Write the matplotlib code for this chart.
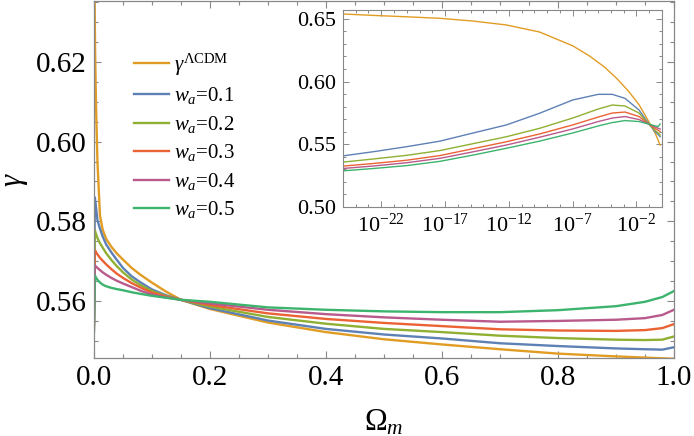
import numpy as np
import matplotlib
matplotlib.use('Agg')
import matplotlib.pyplot as plt
from matplotlib.ticker import FixedLocator, MultipleLocator, FuncFormatter, NullFormatter

matplotlib.rcParams['font.family'] = 'Liberation Serif'
matplotlib.rcParams['mathtext.fontset'] = 'custom'
matplotlib.rcParams['mathtext.rm'] = 'Liberation Serif'
matplotlib.rcParams['mathtext.it'] = 'Liberation Serif:italic'

# --- main panel: gamma vs Omega_m ---
om_lcdm = [0.0, 0.001, 0.002, 0.0034, 0.006, 0.0103, 0.015, 0.021, 0.03, 0.039, 0.05,
           0.065, 0.08, 0.1, 0.125, 0.15, 0.2, 0.3, 0.4, 0.5, 0.6, 0.7, 0.8, 0.9, 1.0]
g_lcdm = [0.670, 0.637, 0.622, 0.610, 0.595, 0.5815, 0.5779, 0.5756, 0.5736, 0.5720, 0.5704,
          0.5683, 0.5666, 0.5646, 0.5623, 0.5603, 0.5580, 0.5546, 0.5522, 0.5504, 0.5491,
          0.5479, 0.5468, 0.5461, 0.5455]

om_wa = [0.0, 0.0015, 0.003, 0.006, 0.01, 0.015, 0.021, 0.03, 0.039, 0.05, 0.065, 0.08,
         0.1, 0.125, 0.15, 0.2, 0.3, 0.4, 0.5, 0.6, 0.7, 0.8, 0.9, 0.95, 0.98, 1.0]
g_wa01 = [0.556, 0.5860, 0.5842, 0.5803, 0.5783, 0.5762, 0.5742, 0.5722, 0.5704, 0.5683,
          0.5662, 0.5647, 0.5629, 0.5614, 0.5603, 0.5582, 0.5551, 0.5530, 0.5516, 0.5506,
          0.5494, 0.5487, 0.5481, 0.5479, 0.5478, 0.5484]
g_wa02 = [0.555, 0.5778, 0.5770, 0.5758, 0.5746, 0.5734, 0.5720, 0.5703, 0.5688, 0.5672,
          0.5654, 0.5640, 0.5625, 0.5612, 0.5603, 0.5586, 0.5560, 0.5543, 0.5530, 0.5522,
          0.5513, 0.5507, 0.5503, 0.5502, 0.5503, 0.5511]
g_wa03 = [0.554, 0.5728, 0.5724, 0.5717, 0.5709, 0.5701, 0.5692, 0.5680, 0.5669, 0.5658,
          0.5645, 0.5634, 0.5621, 0.5611, 0.5603, 0.5590, 0.5569, 0.5555, 0.5545, 0.5537,
          0.5529, 0.5526, 0.5525, 0.5527, 0.5532, 0.5542]
g_wa04 = [0.553, 0.5690, 0.5687, 0.5683, 0.5678, 0.5672, 0.5666, 0.5658, 0.5651, 0.5644,
          0.5635, 0.5626, 0.5616, 0.5609, 0.5603, 0.5594, 0.5578, 0.5567, 0.5559, 0.5553,
          0.5548, 0.5550, 0.5553, 0.5557, 0.5565, 0.5578]
g_wa05 = [0.5523, 0.5665, 0.5660, 0.5653, 0.5647, 0.5641, 0.5637, 0.5633, 0.5630, 0.5627,
          0.5622, 0.5618, 0.5613, 0.5608, 0.5603, 0.5598, 0.5584, 0.5578, 0.5574, 0.5572,
          0.5572, 0.5577, 0.5587, 0.5598, 0.5610, 0.5625]

# --- inset: same curves against log10(Omega_m) ---
lx_lcdm = [-24.9, -22.6, -20.0, -17.4, -14.8, -12.2, -9.6, -7.0, -5.7, -4.5, -3.5,
           -2.6, -1.8, -1.06, -0.54, -0.15]
lg_lcdm = [0.6538, 0.6527, 0.6516, 0.6504, 0.6482, 0.6451, 0.6395, 0.6285, 0.6205, 0.6115,
           0.6020, 0.5920, 0.5815, 0.5685, 0.5590, 0.5494]

lx_wa = [-24.9, -22.6, -20.0, -17.4, -14.8, -12.2, -9.6, -7.0, -5.0, -3.9, -2.9, -1.8,
         -1.06, -0.54, -0.3, -0.15]
lg_wa01 = [0.5409, 0.5441, 0.5481, 0.5525, 0.5590, 0.5654, 0.5747, 0.5853, 0.5898, 0.5898,
           0.5866, 0.5773, 0.5667, 0.5600, 0.5578, 0.5560]
lg_wa02 = [0.5359, 0.5383, 0.5412, 0.5450, 0.5505, 0.5560, 0.5627, 0.5709, 0.5781, 0.5813,
           0.5805, 0.5749, 0.5662, 0.5610, 0.5590, 0.5574]
lg_wa03 = [0.5327, 0.5347, 0.5373, 0.5410, 0.5465, 0.5520, 0.5582, 0.5654, 0.5717, 0.5749,
           0.5757, 0.5721, 0.5662, 0.5626, 0.5612, 0.5602]
lg_wa04 = [0.5308, 0.5327, 0.5353, 0.5388, 0.5440, 0.5494, 0.5556, 0.5622, 0.5681, 0.5709,
           0.5721, 0.5697, 0.5662, 0.5638, 0.5628, 0.5622]
lg_wa05 = [0.5289, 0.5307, 0.5330, 0.5364, 0.5414, 0.5468, 0.5525, 0.5590, 0.5646, 0.5673,
           0.5689, 0.5681, 0.5662, 0.5646, 0.5642, 0.5662]

labels = [r'$\gamma^{\Lambda\mathrm{CDM}}$', r'$w_a$=0.1', r'$w_a$=0.2',
          r'$w_a$=0.3', r'$w_a$=0.4', r'$w_a$=0.5']
colors = ['#E19C24', '#5E81B5', '#8FB032', '#EB6235', '#B85A8C', '#3DB46D']

main_x = [om_lcdm, om_wa, om_wa, om_wa, om_wa, om_wa]
main_y = [g_lcdm, g_wa01, g_wa02, g_wa03, g_wa04, g_wa05]
ins_x = [lx_lcdm, lx_wa, lx_wa, lx_wa, lx_wa, lx_wa]
ins_y = [lg_lcdm, lg_wa01, lg_wa02, lg_wa03, lg_wa04, lg_wa05]

frame = '#888888'

fig = plt.figure(figsize=(6.94, 4.36), dpi=100)
ax = fig.add_axes([0.1354, 0.1789, 0.8357, 0.8190])

for xs, ys, c, lab in zip(main_x, main_y, colors, labels):
    ax.plot(xs, ys, color=c, lw=1.7, label=lab, solid_joinstyle='round')

ax.set_xlim(0, 1)
ax.set_ylim(0.5457, 0.6353)
ax.xaxis.set_major_locator(MultipleLocator(0.2))
ax.xaxis.set_minor_locator(MultipleLocator(0.05))
ax.yaxis.set_major_locator(MultipleLocator(0.02))
ax.yaxis.set_minor_locator(MultipleLocator(0.005))
ax.xaxis.set_major_formatter(FuncFormatter(lambda v, p: f'{v:.1f}'))
ax.yaxis.set_major_formatter(FuncFormatter(lambda v, p: f'{v:.2f}'))
ax.tick_params(which='both', direction='in', top=True, right=True, color=frame, width=0.8)
ax.tick_params(which='major', length=5, labelsize=21, pad=5)
ax.tick_params(which='minor', length=2.8)
for s in ax.spines.values():
    s.set_color(frame)
    s.set_linewidth(0.9)
ax.set_xlabel(r'$\Omega_m$', fontsize=22, labelpad=12)
ax.set_ylabel(r'$\gamma$', fontsize=22, labelpad=4)

leg = ax.legend(loc='upper left', bbox_to_anchor=(0.069, 0.858), frameon=False,
                fontsize=15, handlelength=1.7, handletextpad=0.2, labelspacing=0.36,
                borderaxespad=0, borderpad=0)

# inset
axi = fig.add_axes([0.4942, 0.5252, 0.4597, 0.4518])
for xs, ys, c in zip(ins_x, ins_y, colors):
    axi.plot(10.0 ** np.array(xs), ys, color=c, lw=1.0, solid_joinstyle='round')
axi.set_xscale('log')
axi.set_xlim(1e-25, 1)
axi.set_ylim(0.50, 0.657)
axi.xaxis.set_major_locator(FixedLocator([1e-22, 1e-17, 1e-12, 1e-7, 1e-2]))
axi.xaxis.set_minor_locator(FixedLocator(10.0 ** np.arange(-25, 1)))
axi.xaxis.set_major_formatter(FuncFormatter(lambda v, p: r'$10^{%d}$' % round(np.log10(v))))
axi.xaxis.set_minor_formatter(NullFormatter())
axi.yaxis.set_major_locator(MultipleLocator(0.05))
axi.yaxis.set_minor_locator(MultipleLocator(0.01))
axi.yaxis.set_major_formatter(FuncFormatter(lambda v, p: f'{v:.2f}'))
axi.tick_params(which='both', direction='in', top=True, right=True, color=frame, width=0.7)
axi.tick_params(which='major', length=4, labelsize=16, pad=5)
axi.tick_params(which='minor', length=2.2)
for s in axi.spines.values():
    s.set_color(frame)
    s.set_linewidth(0.8)

fig.savefig('out.png', dpi=100)
